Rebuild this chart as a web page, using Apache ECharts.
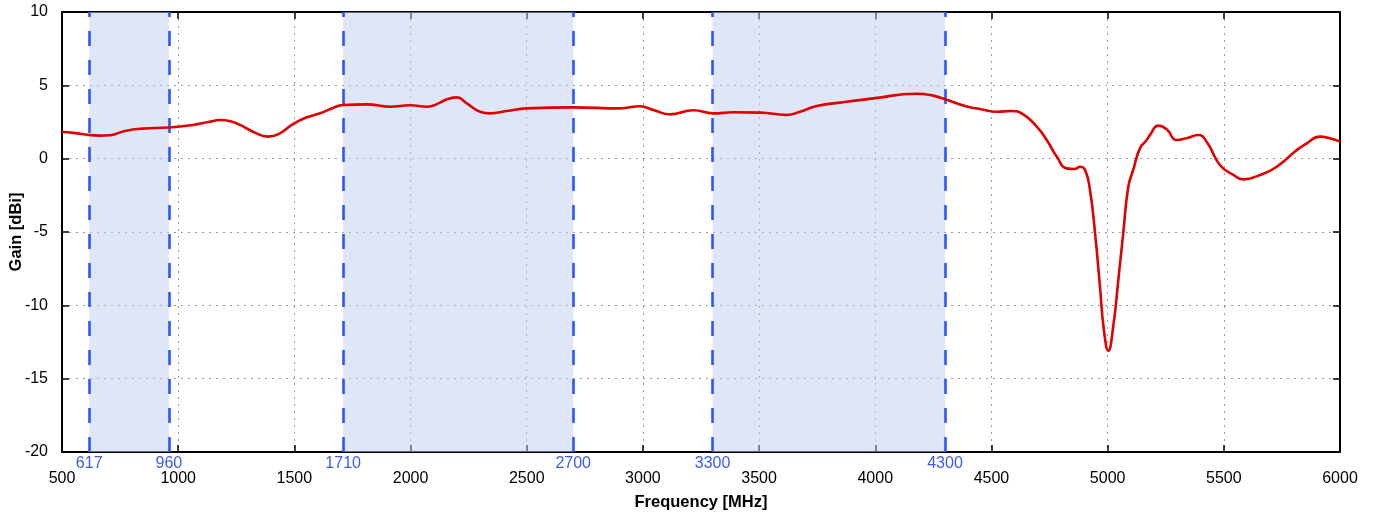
<!DOCTYPE html>
<html>
<head>
<meta charset="utf-8">
<script src="https://cdn.jsdelivr.net/npm/echarts@6/dist/echarts.min.js"></script>
<style>
html,body{margin:0;padding:0;background:#fff;}
#chart{width:1376px;height:515px;}
</style>
</head>
<body>
<div id="chart"></div>
<script>
const freqs = [500,550,617,660,707,771,849,960,1064,1130,1180,1225,1266,1322,1387,1438,1494,1554,1610,1666,1709,1812,1912,1998,2071,2127,2157,2199,2242,2299,2342,2414,2500,2700,2901,2988,3045,3117,3217,3303,3389,3504,3619,3676,3748,3848,3992,4178,4249,4300,4394,4451,4523,4587,4637,4695,4738,4781,4824,4860,4881,4903,4924,4946,4967,4984,5003,5024,5046,5067,5089,5110,5139,5168,5182,5218,5254,5297,5340,5390,5426,5483,5541,5584,5656,5728,5814,5857,5914,5957,6000];
const gains = [1.82,1.76,1.61,1.57,1.6,1.89,2.05,2.12,2.3,2.5,2.64,2.55,2.3,1.84,1.5,1.73,2.36,2.82,3.09,3.45,3.66,3.7,3.54,3.64,3.54,3.82,4.05,4.18,3.77,3.2,3.09,3.25,3.43,3.5,3.43,3.57,3.32,3.02,3.3,3.09,3.16,3.14,2.98,3.2,3.59,3.82,4.11,4.43,4.3,4.05,3.55,3.39,3.2,3.25,3.02,2.18,1.27,0.14,-0.66,-0.7,-0.55,-0.77,-2.14,-5.1,-8.73,-11.7,-13.09,-11.45,-8.27,-5.1,-1.91,-0.77,0.7,1.27,1.61,2.25,2.0,1.27,1.39,1.61,1.16,-0.43,-1.11,-1.41,-1.11,-0.55,0.59,1.05,1.5,1.39,1.16];
const bands = [[617,960],[1710,2700],[3300,4300]];
const bandEdges = [617,960,1710,2700,3300,4300];
const xTicks = {min:500,max:6000,step:500};
const yTicks = {min:-20,max:10,step:5};

const font = 'Liberation Sans, Arial, sans-serif';
const chart = echarts.init(document.getElementById('chart'), null, {renderer:'canvas'});
const data = freqs.map((f,i)=>[f,gains[i]]);

const baseAxis = {
  axisLine:{show:true,onZero:false,lineStyle:{color:'#000',width:2}},
  axisTick:{show:true,inside:true,length:7,lineStyle:{color:'#000',width:1.5}},
};
const gridLine = {show:true,lineStyle:{type:[2,5],color:'#9a9a9a',width:1}};

chart.setOption({
  animation:false,
  grid:{left:62,right:36,top:12,bottom:63,containLabel:false,outerBoundsMode:'none'},
  xAxis:[
    Object.assign({}, baseAxis, {
      type:'value',min:xTicks.min,max:xTicks.max,interval:xTicks.step,position:'bottom',
      name:'Frequency [MHz]',nameLocation:'middle',nameGap:42,nameMoveOverlap:false,
      nameTextStyle:{fontFamily:font,fontWeight:'bold',fontSize:16.5,color:'#000'},
      axisLabel:{fontFamily:font,fontSize:16,color:'#000',margin:19,formatter:v=>String(v)},
      splitLine:gridLine
    }),
    Object.assign({}, baseAxis, {
      type:'value',min:xTicks.min,max:xTicks.max,interval:xTicks.step,position:'top',
      axisLabel:{show:false},splitLine:{show:false}
    })
  ],
  yAxis:[
    Object.assign({}, baseAxis, {
      type:'value',min:yTicks.min,max:yTicks.max,interval:yTicks.step,position:'left',
      name:'Gain [dBi]',nameLocation:'middle',nameGap:37,nameRotate:90,nameMoveOverlap:false,
      nameTextStyle:{fontFamily:font,fontWeight:'bold',fontSize:16.5,color:'#000'},
      axisLabel:{fontFamily:font,fontSize:16,color:'#000',margin:14,formatter:v=>String(v)},
      splitLine:gridLine
    }),
    Object.assign({}, baseAxis, {
      type:'value',min:yTicks.min,max:yTicks.max,interval:yTicks.step,position:'right',
      axisLabel:{show:false},splitLine:{show:false}
    })
  ],
  series:[
    {
      type:'line',
      data:data,
      smooth:0.5,
      showSymbol:false,
      symbol:'none',
      z:5,
      lineStyle:{color:'#e00000',width:2.6},
      markArea:{
        silent:true,
        itemStyle:{color:'rgba(190,206,242,0.5)'},
        data:bands.map(b=>[{xAxis:b[0]},{xAxis:b[1]}])
      },
      markLine:{
        silent:true,
        symbol:['none','none'],
        animation:false,
        lineStyle:{color:'#2f55ff',width:2.6,type:[15,14]},
        label:{show:true,position:'start',distance:4,color:'#3b5bf0',fontFamily:font,fontSize:16,
               formatter:p=>String(p.value)},
        data:bandEdges.map(v=>({xAxis:v}))
      }
    }
  ]
});
</script>
</body>
</html>
